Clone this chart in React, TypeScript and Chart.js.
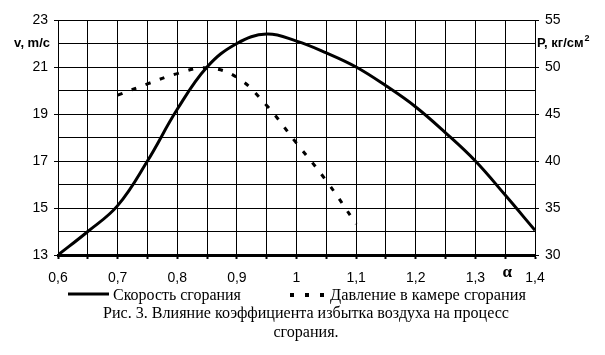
import React, { useEffect, useRef } from "react";
import { Chart, registerables } from "chart.js";

Chart.register(...registerables);

const alphaV = [0.6, 0.65, 0.7, 0.75, 0.8, 0.85, 0.9, 0.95, 1.0, 1.05, 1.1, 1.15, 1.2, 1.25, 1.3, 1.35, 1.4];
const speedV = [13.0, 14.0, 15.1, 17.0, 19.2, 21.0, 22.0, 22.4, 22.1, 21.6, 21.0, 20.2, 19.3, 18.2, 17.0, 15.55, 14.05];

const alphaP = [0.7, 0.75, 0.8, 0.85, 0.9, 0.95, 1.0, 1.05, 1.1];
const pressureP = [47.0, 48.2, 49.3, 49.9, 48.9, 45.9, 41.9, 37.9, 33.3];

const xTicks = { min: 0.6, max: 1.4, step: 0.05 };
const vTicks = { min: 13, max: 23, step: 1 };
const pTicks = { min: 30, max: 55, step: 2.5 };

const legendLabels = ["Скорость сгорания", "Давление в камере сгорания"];
const captionLines = [
  "Рис. 3. Влияние коэффициента избытка воздуха на процесс",
  "сгорания.",
];
const vTitle = "v, m/c";
const pTitle = "P, кг/см";
const xTitle = "α";

const SANS = "'Liberation Sans', Arial, sans-serif";
const SERIF = "'Liberation Serif', 'Times New Roman', serif";

function fitText(ctx: CanvasRenderingContext2D, text: string, x: number, y: number, width: number, family: string, base: number) {
  ctx.font = `${base}px ${family}`;
  const m = ctx.measureText(text).width;
  const size = base * width / m;
  ctx.font = `${size}px ${family}`;
  ctx.fillText(text, x, y);
  return size;
}

const decorPlugin = {
  id: "decor",
  afterDraw(chart: any) {
    const ctx = chart.ctx as CanvasRenderingContext2D;
    const y = chart.scales.y;
    const x = chart.scales.x;
    const area = chart.chartArea;
    ctx.save();
    ctx.fillStyle = "#000";
    ctx.textBaseline = "middle";
    ctx.font = `bold 13px ${SANS}`;
    ctx.textAlign = "right";
    ctx.fillText(vTitle, area.left - 8, y.getPixelForValue(22));
    ctx.textAlign = "left";
    const ty = y.getPixelForValue(22);
    ctx.fillText(pTitle, area.right + 2, ty);
    const w = ctx.measureText(pTitle).width;
    ctx.font = `bold 9px ${SANS}`;
    ctx.fillText("2", area.right + 3 + w, ty - 5);
    ctx.font = `bold 17px ${SERIF}`;
    ctx.textAlign = "center";
    ctx.textBaseline = "alphabetic";
    ctx.fillText(xTitle, x.getPixelForValue(1.35) + 2, 277);

    ctx.strokeStyle = "#000";
    ctx.lineWidth = 3;
    ctx.beginPath();
    ctx.moveTo(68, 294);
    ctx.lineTo(109, 294);
    ctx.stroke();
    ctx.textAlign = "left";
    fitText(ctx, legendLabels[0], 113, 300, 128, SERIF, 15);
    ctx.lineWidth = 4;
    ctx.setLineDash([4, 11]);
    ctx.beginPath();
    ctx.moveTo(290, 295);
    ctx.lineTo(325, 295);
    ctx.stroke();
    ctx.setLineDash([]);
    fitText(ctx, legendLabels[1], 330, 300, 196, SERIF, 15);

    const s = fitText(ctx, captionLines[0], 103, 318, 406, SERIF, 15);
    ctx.font = `${s}px ${SERIF}`;
    ctx.textAlign = "center";
    ctx.fillText(captionLines[1], 306, 337);
    ctx.restore();
  },
};

const bgPlugin = {
  id: "bg",
  beforeDraw(chart: any) {
    const ctx = chart.ctx;
    ctx.save();
    ctx.fillStyle = "#fff";
    ctx.fillRect(0, 0, chart.width, chart.height);
    ctx.restore();
  },
};

export default function App() {
  const ref = useRef<HTMLCanvasElement | null>(null);
  useEffect(() => {
    if (!ref.current) return;
    const fmt = (v: number) => Number(v.toFixed(1)).toString().replace(".", ",");
    const chart = new Chart(ref.current, {
      type: "line",
      data: {
        datasets: [
          {
            label: legendLabels[0],
            data: alphaV.map((a, i) => ({ x: a, y: speedV[i] })),
            yAxisID: "y",
            borderColor: "#000",
            borderWidth: 3,
            pointRadius: 0,
            tension: 0.4,
            fill: false,
          },
          {
            label: legendLabels[1],
            data: alphaP.map((a, i) => ({ x: a, y: pressureP[i] })),
            yAxisID: "y1",
            borderColor: "#000",
            borderWidth: 3,
            borderDash: [5, 10],
            pointRadius: 0,
            tension: 0.4,
            fill: false,
          },
        ],
      },
      options: {
        animation: false,
        responsive: false,
        layout: { padding: { top: 20, left: 0, right: 0, bottom: 0 } },
        plugins: { legend: { display: false }, tooltip: { enabled: false }, title: { display: false } },
        scales: {
          x: {
            type: "linear",
            min: xTicks.min,
            max: xTicks.max,
            afterFit: (s: any) => { s.height = 100; },
            ticks: {
              stepSize: xTicks.step,
              autoSkip: false,
              maxRotation: 0,
              color: "#000",
              padding: 11,
              font: { family: SANS, size: 14 },
              callback: (v: any) => (Math.round(Number(v) * 100) % 10 === 0 ? fmt(Number(v)) : ""),
            },
            grid: { color: "#000", lineWidth: 1, tickLength: 4, tickColor: "#000", tickWidth: 2 },
            border: { color: "#000", width: 3 },
          },
          y: {
            type: "linear",
            position: "left",
            min: vTicks.min,
            max: vTicks.max,
            afterFit: (s: any) => { s.width = 58; },
            ticks: {
              stepSize: vTicks.step,
              color: "#000",
              padding: 6,
              font: { family: SANS, size: 14 },
              callback: (v: any) => (Math.round(Number(v)) % 2 === 1 ? String(v) : ""),
            },
            grid: {
              color: "#000",
              lineWidth: 1,
              tickLength: 4,
              tickColor: (c: any) => (c.tick && Math.round(c.tick.value) % 2 === 1 ? "#000" : "rgba(0,0,0,0)"),
            },
            border: { color: "#000", width: 1 },
          },
          y1: {
            type: "linear",
            position: "right",
            min: pTicks.min,
            max: pTicks.max,
            afterFit: (s: any) => { s.width = 70; },
            ticks: {
              stepSize: pTicks.step,
              color: "#000",
              padding: 6,
              font: { family: SANS, size: 14 },
              callback: (v: any) => (Math.abs(Number(v) % 5) < 1e-6 ? String(v) : ""),
            },
            grid: {
              drawOnChartArea: false,
              color: "#000",
              tickLength: 4,
              tickColor: (c: any) => (c.tick && Math.abs(c.tick.value % 5) < 1e-6 ? "#000" : "rgba(0,0,0,0)"),
            },
            border: { color: "#000", width: 1 },
          },
        },
      },
      plugins: [bgPlugin, decorPlugin],
    } as any);
    return () => chart.destroy();
  }, []);
  return (
    <div style={{ position: "fixed", left: 0, top: 0, width: 605, height: 355, background: "#fff" }}>
      <canvas ref={ref} width={605} height={355} style={{ width: 605, height: 355, display: "block" }} />
    </div>
  );
}
